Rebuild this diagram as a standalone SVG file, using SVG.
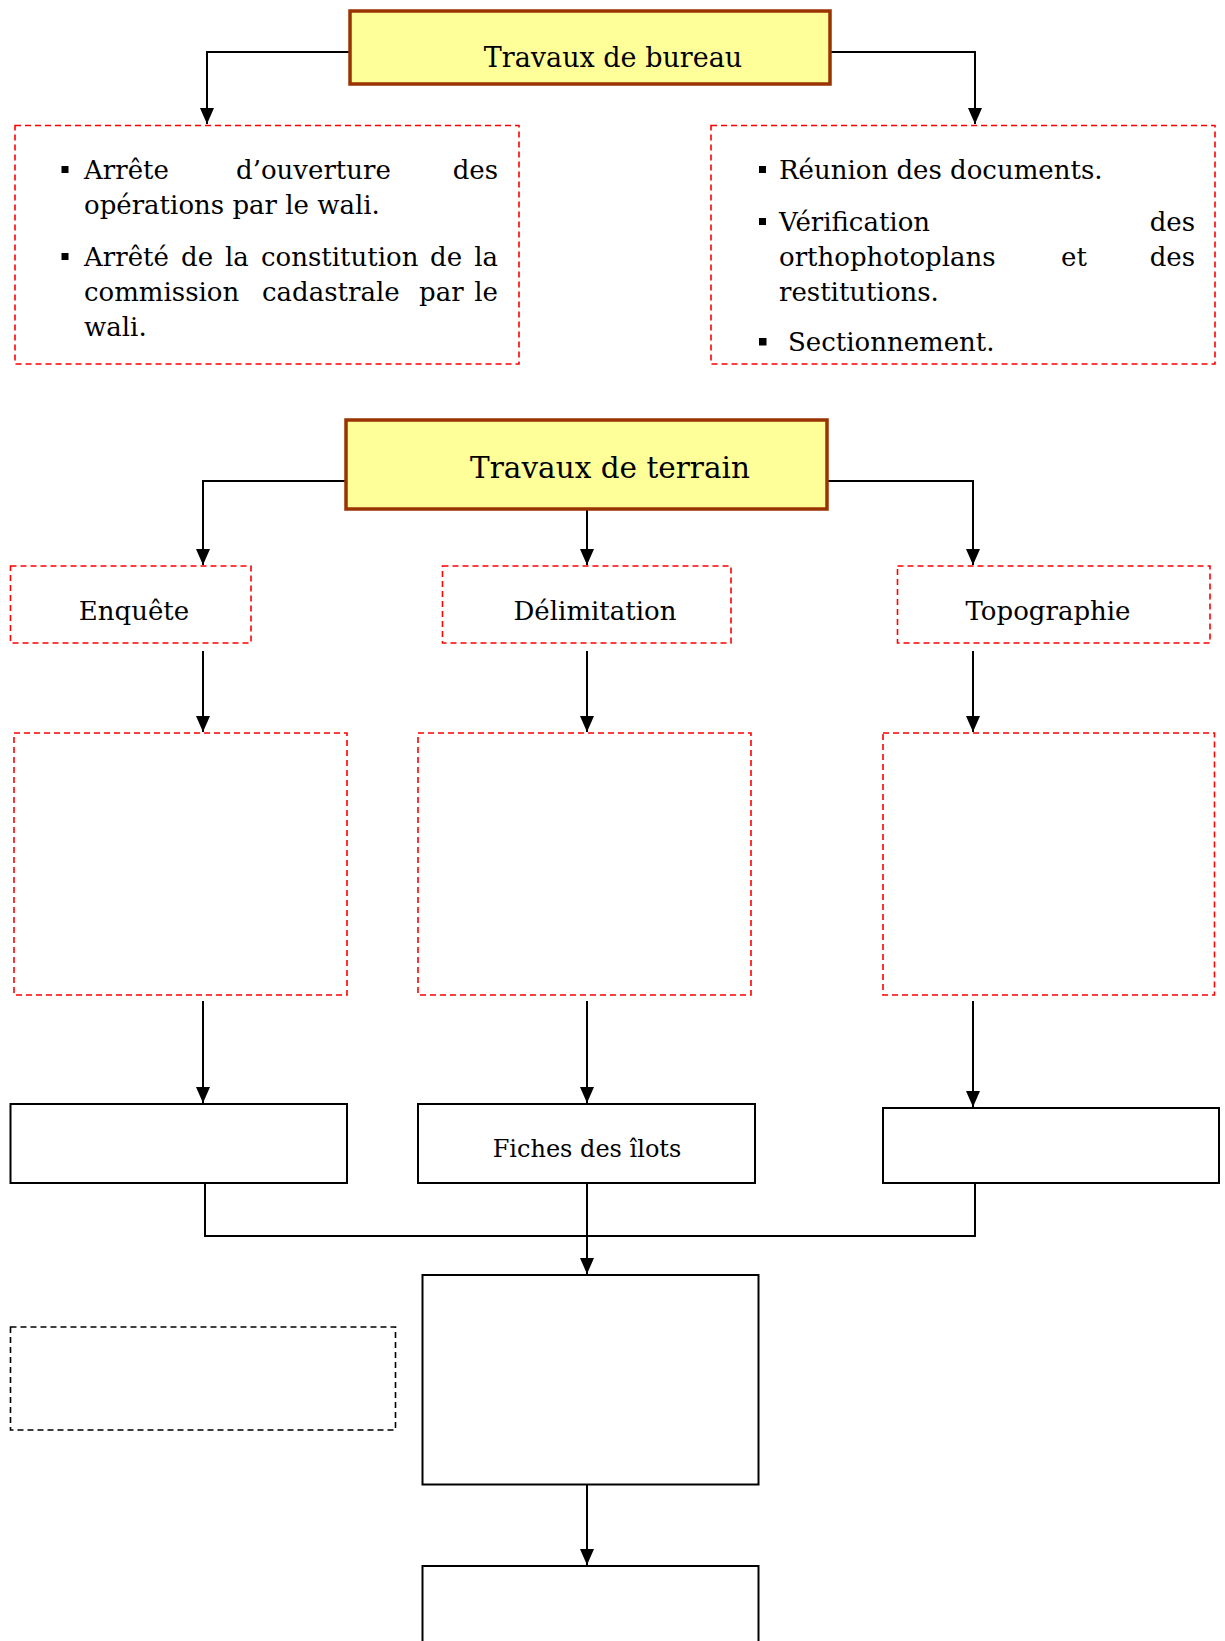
<svg xmlns="http://www.w3.org/2000/svg" width="1225" height="1641" viewBox="0 0 1225 1641">
<style>
text{font-family:"DejaVu Serif","Liberation Serif",serif;fill:#000}
.b{font-size:26px}
.head{fill:#FFFF99;stroke:#993300;stroke-width:3.5}
.rd{fill:none;stroke:#FF0000;stroke-width:1.6;stroke-dasharray:6 4}
.kd{fill:none;stroke:#000;stroke-width:1.6;stroke-dasharray:6 4}
.sol{fill:#fff;stroke:#000;stroke-width:2}
.c{fill:none;stroke:#000;stroke-width:2}
.bul{fill:#000}
</style>
<defs>
<marker id="ah" viewBox="0 0 16 14" refX="16" refY="7" markerWidth="16" markerHeight="14" markerUnits="userSpaceOnUse" orient="auto">
<path d="M0,0 L16,7 L0,14 Z" fill="#000"/>
</marker>
</defs>

<g id="connectors">
<path class="c" d="M350,52 H207 V124" marker-end="url(#ah)"/>
<path class="c" d="M830,52 H975 V124" marker-end="url(#ah)"/>
<path class="c" d="M346,481 H203 V565" marker-end="url(#ah)"/>
<path class="c" d="M587,510 V565" marker-end="url(#ah)"/>
<path class="c" d="M827,481 H973 V565" marker-end="url(#ah)"/>
<path class="c" d="M203,651 V732" marker-end="url(#ah)"/>
<path class="c" d="M587,651 V732" marker-end="url(#ah)"/>
<path class="c" d="M973,651 V732" marker-end="url(#ah)"/>
<path class="c" d="M203,1001 V1103" marker-end="url(#ah)"/>
<path class="c" d="M587,1001 V1103" marker-end="url(#ah)"/>
<path class="c" d="M973,1001 V1107" marker-end="url(#ah)"/>
<path class="c" d="M205,1183 V1236 H975 V1183"/>
<path class="c" d="M587,1183 V1274" marker-end="url(#ah)"/>
<path class="c" d="M587,1485 V1565" marker-end="url(#ah)"/>
</g>

<g id="n-bureau">
<rect class="head" x="350" y="11" width="480" height="73"/>
<text x="613" y="67" font-size="27" text-anchor="middle">Travaux de bureau</text>
</g>

<g id="n-bureau-left">
<rect class="rd" x="15" y="125.5" width="504" height="238.5"/>
<rect class="bul" x="61.5" y="166" width="7" height="7"/>
<rect class="bul" x="61.5" y="253" width="7" height="7"/>
<text class="b" y="179"><tspan x="84">Arrête</tspan><tspan x="236">d’ouverture</tspan><tspan x="498" text-anchor="end">des</tspan></text>
<text class="b" x="84" y="214">opérations par le wali.</text>
<text class="b" y="266"><tspan x="84">Arrêté</tspan><tspan x="181">de</tspan><tspan x="225">la</tspan><tspan x="261">constitution</tspan><tspan x="430">de</tspan><tspan x="498" text-anchor="end">la</tspan></text>
<text class="b" y="301"><tspan x="84">commission</tspan><tspan x="262">cadastrale</tspan><tspan x="419">par</tspan><tspan x="498" text-anchor="end">le</tspan></text>
<text class="b" x="84" y="336">wali.</text>
</g>

<g id="n-bureau-right">
<rect class="rd" x="711" y="125.5" width="504" height="238.5"/>
<rect class="bul" x="759" y="166" width="7" height="7"/>
<rect class="bul" x="759" y="218" width="7" height="7"/>
<rect class="bul" x="759" y="338" width="7.5" height="7.5"/>
<text class="b" x="779" y="179">Réunion des documents.</text>
<text class="b" y="231"><tspan x="779">Vérification</tspan><tspan x="1195" text-anchor="end">des</tspan></text>
<text class="b" y="266"><tspan x="779">orthophotoplans</tspan><tspan x="1074" text-anchor="middle">et</tspan><tspan x="1195" text-anchor="end">des</tspan></text>
<text class="b" x="779" y="301">restitutions.</text>
<text class="b" x="788" y="351">Sectionnement.</text>
</g>

<g id="n-terrain">
<rect class="head" x="346" y="420" width="481" height="89"/>
<text x="610" y="478" font-size="29.5" text-anchor="middle">Travaux de terrain</text>
</g>

<g id="n-enquete">
<rect class="rd" x="10.5" y="566" width="240.5" height="77"/>
<text class="b" x="134" y="620" text-anchor="middle">Enquête</text>
</g>
<g id="n-delimitation">
<rect class="rd" x="442.5" y="566" width="288.5" height="77"/>
<text class="b" x="595" y="620" text-anchor="middle">Délimitation</text>
</g>
<g id="n-topographie">
<rect class="rd" x="897.5" y="566" width="312.5" height="77"/>
<text class="b" x="1048" y="620" text-anchor="middle">Topographie</text>
</g>

<g id="n-r3a"><rect class="rd" x="14" y="733" width="333" height="262"/></g>
<g id="n-r3b"><rect class="rd" x="418" y="733" width="333" height="262"/></g>
<g id="n-r3c"><rect class="rd" x="883" y="733" width="331.5" height="262"/></g>

<g id="n-r4a"><rect class="sol" x="10.5" y="1104" width="336.5" height="79"/></g>
<g id="n-fiches">
<rect class="sol" x="418" y="1104" width="337" height="79"/>
<text x="587" y="1157" font-size="24" text-anchor="middle">Fiches des îlots</text>
</g>
<g id="n-r4c"><rect class="sol" x="883" y="1108" width="336" height="75"/></g>

<g id="n-r5"><rect class="sol" x="422.5" y="1275" width="336" height="209.5"/></g>
<g id="n-side"><rect class="kd" x="10.5" y="1327" width="385" height="103"/></g>
<g id="n-r6"><rect class="sol" x="422.5" y="1566" width="336" height="90"/></g>
</svg>
